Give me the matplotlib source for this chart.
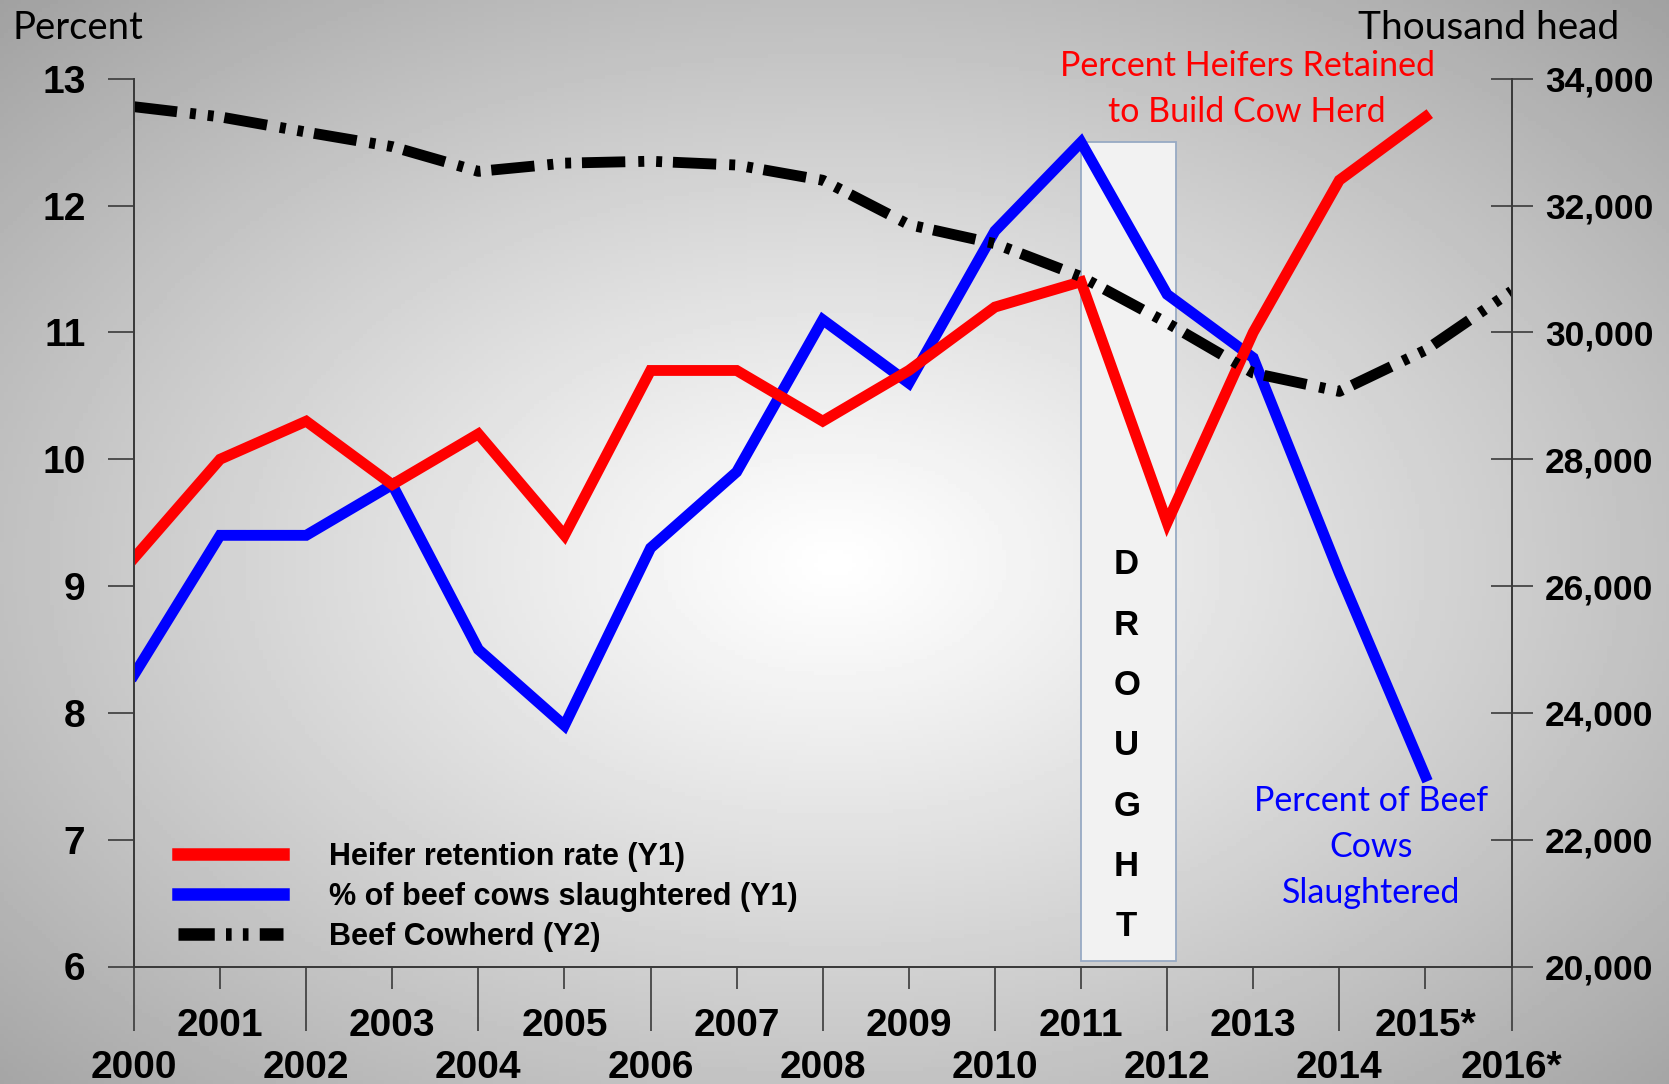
import numpy as np
import matplotlib
matplotlib.use("Agg")
import matplotlib.pyplot as plt
from matplotlib.lines import Line2D
from matplotlib.patches import Rectangle
from matplotlib.ticker import FuncFormatter

# data
years = list(range(2000, 2017))
years_pct = list(range(2000, 2016))
heifer_rate = [9.22, 10.0, 10.3, 9.8, 10.2, 9.4, 10.7, 10.7, 10.3, 10.7, 11.2, 11.4, 9.5, 11.0, 12.2, 12.7]
cows_slaughtered = [8.3, 9.4, 9.4, 9.8, 8.5, 7.9, 9.3, 9.9, 11.1, 10.6, 11.8, 12.5, 11.3, 10.8, 9.1, 7.5]
cowherd = [33560, 33400, 33160, 32930, 32540, 32670, 32700, 32640, 32400,
           31700, 31400, 30880, 30150, 29360, 29070, 29720, 30650]
year_labels = [str(y) for y in years]
year_labels[15] = "2015*"
year_labels[16] = "2016*"

W, H = 1669, 1084
fig = plt.figure(figsize=(W / 100, H / 100), dpi=100)

# radial grey background
bg = fig.add_axes([0, 0, 1, 1], zorder=-5)
xx, yy = np.meshgrid(np.linspace(0, 1, 400), np.linspace(0, 1, 260))
r = np.sqrt(((xx - 0.5) / 0.5) ** 2 + ((yy - 0.52) / 0.5) ** 2) / np.sqrt(2)
val = np.clip(1.0 - 0.36 * r ** 1.1, 0, 1)
bg.imshow(val, cmap="gray", vmin=0, vmax=1, aspect="auto", extent=[0, 1, 0, 1], origin="upper")
bg.axis("off")

ax = fig.add_axes([134 / W, 1 - 966.5 / H, (1511.5 - 134) / W, (966.5 - 78.8) / H])
ax.patch.set_visible(False)
ax2 = ax.twinx()
ax2.patch.set_visible(False)

bold = dict(family=["Liberation Sans", "DejaVu Sans"], weight="bold")
soft = ["Lato", "DejaVu Sans"]
axis_col = "#3a3a3a"

# drought box
ax.add_patch(Rectangle((2011, 6.04), 1.1, 12.5 - 6.04, facecolor="#f2f2f2",
                       edgecolor="#98aac4", lw=1.3, zorder=1))
ax.text(2011.53, 7.74, "\n".join("DROUGHT"), ha="center", va="center",
        fontsize=25, linespacing=2.05, zorder=2, **bold)

ax.plot(years_pct, cows_slaughtered, color="#0000ff", lw=7.8, solid_joinstyle="miter", zorder=3)
ax.plot(years_pct, heifer_rate, color="#ff0000", lw=7.8, solid_joinstyle="miter", zorder=4)
dash = (0, (4.0, 1.2, 0.55, 1.1, 0.55, 1.0))
ax2.plot(years, cowherd, color="black", lw=7.8, linestyle=dash, dash_capstyle="butt")

ax.set_xlim(2000, 2016)
ax.set_ylim(6, 13)
ax2.set_ylim(20000, 34000)

for a in (ax, ax2):
    a.spines["top"].set_visible(False)
    for s in ("left", "right", "bottom"):
        a.spines[s].set_color(axis_col)
        a.spines[s].set_linewidth(1.3)

# x ticks: even years long ticks low labels, odd years short ticks high labels
ax.set_xticks(years[::2])
ax.set_xticklabels(year_labels[::2])
ax.set_xticks(years[1::2], minor=True)
ax.set_xticklabels(year_labels[1::2], minor=True)
ax.tick_params(axis="x", which="major", length=46, width=1.2, color=axis_col, pad=14, labelsize=28)
ax.tick_params(axis="x", which="minor", length=16, width=1.2, color=axis_col, pad=14, labelsize=28)
for lab in ax.get_xticklabels(which="both"):
    lab.set_fontweight("bold")
    lab.set_family(["Liberation Sans", "DejaVu Sans"])

ax.set_yticks(range(6, 14))
ax.tick_params(axis="y", length=19, width=1.2, color=axis_col, pad=16, labelsize=28)
for lab in ax.get_yticklabels():
    lab.set_fontweight("bold")
    lab.set_family(["Liberation Sans", "DejaVu Sans"])

ax2.set_yticks(range(20000, 34001, 2000))
ax2.yaxis.set_major_formatter(FuncFormatter(lambda v, p: f"{int(v):,}"))
ax2.tick_params(axis="y", direction="inout", length=30, width=1.2, color=axis_col, pad=9, labelsize=25.5)
for lab in ax2.get_yticklabels():
    lab.set_fontweight("bold")
    lab.set_family(["Liberation Sans", "DejaVu Sans"])

# axis titles
fig.text(12 / W, 1 - 28 / H, "Percent", fontsize=27.5, family=soft, ha="left", va="center")
fig.text(1619 / W, 1 - 28 / H, "Thousand head", fontsize=28, family=soft, ha="right", va="center")

# annotations
fig.text(1247 / W, 1 - 89 / H, "Percent Heifers Retained\nto Build Cow Herd", color="#ff0000",
         fontsize=24.5, family=soft, ha="center", va="center", linespacing=1.55)
fig.text(1371 / W, 1 - 847 / H, "Percent of Beef\nCows\nSlaughtered", color="#0000ff",
         fontsize=24.5, family=soft, ha="center", va="center", linespacing=1.55)

# legend
legend_dash = (0, (2.9, 0.9, 0.45, 0.9, 0.45, 0.9))
handles = [Line2D([], [], color="#ff0000", lw=9),
           Line2D([], [], color="#0000ff", lw=9),
           Line2D([], [], color="black", lw=9, linestyle=legend_dash, dash_capstyle="butt")]
labels = ["Heifer retention rate (Y1)", "% of beef cows slaughtered (Y1)", "Beef Cowherd (Y2)"]
ax.legend(handles, labels, loc="upper left", bbox_to_anchor=(178 / W, 1 - 842 / H),
          bbox_transform=fig.transFigure, frameon=False, borderpad=0, borderaxespad=0,
          handlelength=3.45, handletextpad=1.5, labelspacing=0.33,
          prop=dict(family=["Liberation Sans", "DejaVu Sans"], weight="bold", size=22))

fig.savefig("out.png", dpi=100)
